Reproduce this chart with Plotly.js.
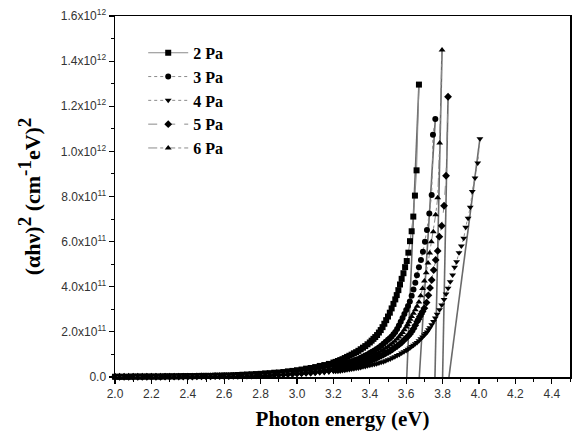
<!DOCTYPE html>
<html>
<head>
<meta charset="utf-8">
<script src="https://cdn.plot.ly/plotly-3.0.1.min.js"></script>
<style>html,body{margin:0;padding:0;background:#fff;}#chart{width:574px;height:437px;}</style>
</head>
<body>
<div id="chart"></div>
<script>
// Photon energy grid for the low-energy tail (eV), shared by all series
const E_LOW = [2.000,2.025,2.050,2.075,2.100,2.125,2.150,2.175,2.200,2.225,2.250,2.275,2.300,2.325,2.350,2.375,2.400,2.425,2.450,2.475,2.500,2.525,2.550,2.575,2.600,2.625,2.650,2.675,2.700,2.725,2.750,2.775,2.800,2.825,2.850,2.875,2.900,2.925,2.950,2.975,3.000,3.025,3.050,3.075,3.100,3.125,3.150,3.175,3.200];
const E_MID = [3.2125,3.225,3.2375,3.25,3.2625,3.275,3.2875,3.30,3.3125,3.325,3.3375,3.35,3.3625,3.375,3.3875,3.40];

// (alpha h nu)^2 in units of 1e12 (cm^-1 eV)^2 on E_LOW
const Y2_LOW = [.001,.001,.001,.001,.002,.002,.002,.002,.002,.002,.002,.003,.003,.003,.003,.004,.004,.004,.004,.005,.005,.005,.006,.006,.007,.007,.008,.009,.010,.011,.012,.013,.014,.016,.017,.019,.020,.022,.025,.027,.030,.033,.037,.040,.044,.049,.053,.058,.064];
const Y3_LOW = [.001,.001,.001,.001,.001,.001,.001,.002,.002,.002,.002,.002,.002,.002,.003,.003,.003,.003,.004,.004,.004,.004,.005,.005,.005,.006,.006,.007,.007,.008,.009,.010,.011,.012,.013,.014,.016,.017,.019,.021,.023,.025,.028,.031,.034,.037,.041,.045,.049];
const Y4_LOW = [.001,.001,.001,.001,.001,.001,.001,.001,.001,.001,.001,.001,.001,.001,.002,.002,.002,.002,.002,.002,.002,.003,.003,.003,.003,.004,.004,.004,.004,.005,.005,.005,.006,.006,.007,.007,.008,.009,.010,.011,.012,.013,.014,.016,.017,.019,.020,.022,.025];
const Y5_LOW = [.001,.001,.001,.001,.001,.001,.001,.001,.001,.001,.001,.002,.002,.002,.002,.002,.002,.002,.003,.003,.003,.003,.004,.004,.004,.004,.005,.005,.005,.006,.006,.007,.007,.008,.009,.010,.011,.012,.013,.014,.016,.017,.019,.020,.022,.025,.027,.030,.033];
const Y6_LOW = [.001,.001,.001,.001,.001,.001,.001,.001,.001,.002,.002,.002,.002,.002,.002,.002,.003,.003,.003,.003,.004,.004,.004,.004,.005,.005,.005,.006,.006,.007,.007,.008,.009,.010,.011,.012,.013,.014,.016,.017,.019,.020,.022,.025,.027,.030,.033,.037,.040];

// Values on E_MID
const Y2_MID = [.067,.071,.075,.079,.084,.089,.094,.099,.105,.110,.116,.123,.130,.137,.145,.153];
const Y3_MID = [.050,.052,.054,.056,.059,.062,.065,.068,.072,.076,.080,.085,.090,.095,.100,.106];
const Y4_MID = [.025,.026,.027,.029,.030,.032,.033,.035,.037,.039,.040,.042,.045,.047,.050,.052];
const Y5_MID = [.035,.037,.038,.040,.042,.044,.046,.049,.051,.053,.056,.058,.061,.064,.067,.071];
const Y6_MID = [.042,.043,.045,.048,.050,.052,.055,.057,.060,.063,.066,.069,.073,.077,.082,.087];

// Absorption edge, per series
const X2_UP = [3.41,3.42,3.43,3.44,3.45,3.46,3.47,3.48,3.49,3.50,3.51,3.52,3.53,3.54,3.548,3.557,3.566,3.575,3.585,3.594,3.603,3.612,3.621,3.630,3.639,3.648,3.657,3.670];
const Y2_UP = [.161,.169,.177,.186,.197,.208,.221,.236,.252,.268,.285,.304,.324,.344,.363,.385,.410,.435,.460,.487,.514,.551,.602,.646,.711,.804,.916,1.296];

const X3_UP = [3.4125,3.425,3.4375,3.45,3.4625,3.475,3.4875,3.50,3.51,3.52,3.53,3.54,3.55,3.56,3.57,3.58,3.59,3.60,3.61,3.62,3.63,3.64,3.650,3.659,3.670,3.681,3.692,3.703,3.714,3.727,3.740,3.747,3.760];
const Y3_UP = [.112,.118,.124,.131,.139,.147,.156,.165,.172,.180,.189,.200,.213,.228,.245,.262,.279,.297,.315,.335,.360,.388,.418,.451,.486,.519,.555,.600,.652,.725,.807,1.074,1.144];

const X4_UP = [3.4125,3.425,3.4375,3.45,3.4625,3.475,3.4875,3.50,3.5125,3.525,3.5375,3.55,3.5625,3.575,3.5875,3.60,3.61,3.62,3.63,3.64,3.65,3.66,3.67,3.68,3.69,3.70,3.7075,3.715,3.7225,3.73,3.74,3.75,3.76,3.77,3.783,3.795,3.808,3.819,3.830,3.842,3.855,3.866,3.877,3.890,3.903,3.916,3.927,3.940,3.952,3.963,3.978,3.993,4.005];
const Y4_UP = [.054,.056,.059,.062,.065,.068,.072,.076,.080,.085,.090,.095,.100,.106,.112,.118,.123,.129,.135,.141,.147,.153,.161,.169,.177,.186,.193,.200,.209,.218,.232,.246,.262,.278,.298,.319,.344,.368,.393,.422,.452,.486,.511,.551,.581,.615,.664,.704,.752,.822,.882,.948,1.056];

const X5_UP = [3.4125,3.425,3.4375,3.45,3.4625,3.475,3.4875,3.50,3.5125,3.525,3.5375,3.55,3.5625,3.575,3.5875,3.60,3.61,3.62,3.63,3.64,3.65,3.66,3.6675,3.675,3.6825,3.69,3.70,3.712,3.722,3.731,3.740,3.751,3.762,3.773,3.782,3.795,3.808,3.819,3.830];
const Y5_UP = [.075,.079,.084,.089,.094,.099,.105,.110,.116,.123,.130,.137,.145,.153,.163,.173,.181,.190,.201,.214,.229,.245,.256,.268,.279,.290,.305,.330,.362,.395,.430,.474,.519,.559,.622,.670,.759,.892,1.242];

const X6_UP = [3.4125,3.425,3.4375,3.45,3.4625,3.475,3.4875,3.50,3.5125,3.525,3.5375,3.55,3.56,3.57,3.58,3.59,3.60,3.6075,3.615,3.6225,3.63,3.64,3.65,3.66,3.67,3.68,3.69,3.70,3.71,3.72,3.729,3.738,3.749,3.762,3.773,3.784,3.797];
const Y6_UP = [.092,.097,.102,.108,.114,.121,.127,.134,.142,.150,.159,.168,.177,.187,.197,.209,.222,.233,.245,.256,.268,.282,.298,.314,.332,.360,.392,.425,.462,.505,.550,.600,.644,.719,.795,1.037,1.449];

// Linear extrapolation lines (band-gap fits): x-intercept and top point
const SERIES_NAMES = ["2 Pa","3 Pa","4 Pa","5 Pa","6 Pa"];
const FIT_X0 = [3.603,3.672,3.835,3.800,3.758];
const FIT_X1 = [3.670,3.760,4.005,3.830,3.797];
const FIT_Y1 = [1.296,1.144,1.056,1.242,1.449];

// Axis ticks
const Y_TICKVALS = [0,0.2,0.4,0.6,0.8,1.0,1.2,1.4,1.6];
const Y_TICKTEXT = ["0.0","2.0x10<sup>11</sup>","4.0x10<sup>11</sup>","6.0x10<sup>11</sup>","8.0x10<sup>11</sup>","1.0x10<sup>12</sup>","1.2x10<sup>12</sup>","1.4x10<sup>12</sup>","1.6x10<sup>12</sup>"];

const seriesX = [
  E_LOW.concat(E_MID, X2_UP), E_LOW.concat(E_MID, X3_UP), E_LOW.concat(E_MID, X4_UP),
  E_LOW.concat(E_MID, X5_UP), E_LOW.concat(E_MID, X6_UP)];
const seriesY = [
  Y2_LOW.concat(Y2_MID, Y2_UP), Y3_LOW.concat(Y3_MID, Y3_UP), Y4_LOW.concat(Y4_MID, Y4_UP),
  Y5_LOW.concat(Y5_MID, Y5_UP), Y6_LOW.concat(Y6_MID, Y6_UP)];
const symbols = ["square","circle","triangle-down","diamond","triangle-up"];
const dashes = ["solid","dot","dot","dash","dashdot"];

const traces = [];
for (let i = 0; i < 5; i++) {
  traces.push({
    x: [FIT_X0[i], FIT_X1[i]], y: [0, FIT_Y1[i]],
    type: "scatter", mode: "lines", showlegend: false, hoverinfo: "skip",
    line: {color: "#6a6a6a", width: 1.6}
  });
}
for (let i = 0; i < 5; i++) {
  traces.push({
    x: seriesX[i], y: seriesY[i], name: SERIES_NAMES[i],
    type: "scatter", mode: "lines+markers", cliponaxis: false,
    line: {color: "#8a8a8a", width: 1, dash: dashes[i]},
    marker: {symbol: symbols[i], size: 6, color: "#000"}
  });
}

const tickFont = {family: "Liberation Sans, Arial, sans-serif", size: 12, color: "#333"};
const xTitleFont = {family: "Liberation Serif, Times New Roman, serif", size: 21, color: "#000", weight: "bold"};
const yTitleFont = {family: "Liberation Serif, Times New Roman, serif", size: 22, color: "#000", weight: "bold"};
const SUP = (s) => "<sup><span style='font-size:19px'>" + s + "</span></sup>";

const layout = {
  width: 574, height: 437,
  margin: {l: 115, r: 4, t: 16, b: 60},
  paper_bgcolor: "#fff", plot_bgcolor: "#fff",
  showlegend: true,
  legend: {
    x: 0.062, y: 0.945, xanchor: "left", yanchor: "top",
    bgcolor: "rgba(0,0,0,0)", itemwidth: 40,
    font: {family: "Liberation Serif, Times New Roman, serif", size: 16, color: "#000", weight: "bold"}
  },
  xaxis: {
    range: [2.0, 4.5], dtick: 0.2, tick0: 2.0, tickformat: ".1f",
    ticks: "outside", ticklen: 5, tickwidth: 1.2, tickcolor: "#000",
    minor: {dtick: 0.1, ticks: "outside", ticklen: 3, tickcolor: "#000", tickwidth: 1},
    showline: true, linecolor: "#000", linewidth: 1.5, mirror: true,
    showgrid: false, zeroline: false, tickfont: tickFont,
    title: {text: "Photon energy (eV)", font: xTitleFont, standoff: 11}
  },
  yaxis: {
    range: [0, 1.6], tickvals: Y_TICKVALS, ticktext: Y_TICKTEXT,
    ticks: "outside", ticklen: 5, tickwidth: 1.2, tickcolor: "#000",
    minor: {tickvals: [0.1,0.3,0.5,0.7,0.9,1.1,1.3,1.5], ticks: "outside", ticklen: 3, tickcolor: "#000", tickwidth: 1},
    showline: true, linecolor: "#000", linewidth: 1.5, mirror: true,
    showgrid: false, zeroline: false, tickfont: tickFont,
    title: {text: "(αhν)" + SUP("2") + " (cm" + SUP("-1") + "eV)" + SUP("2"), font: yTitleFont, standoff: 14}
  }
};

Plotly.newPlot("chart", traces, layout, {displayModeBar: false, staticPlot: true});
</script>
</body>
</html>
